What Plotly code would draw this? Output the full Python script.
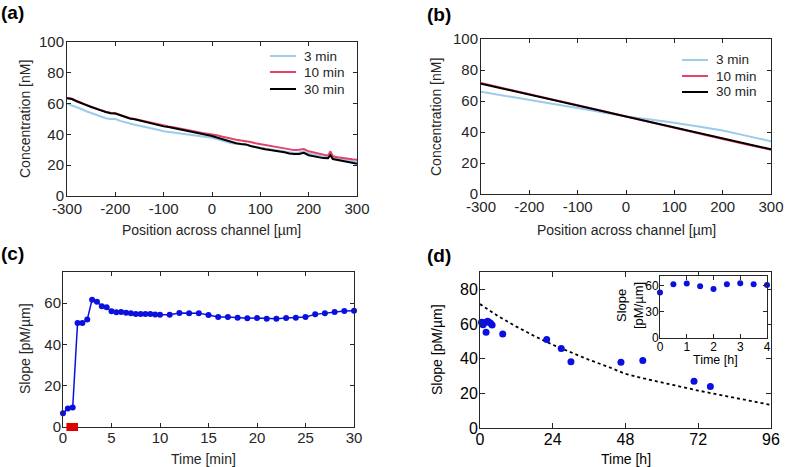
import plotly.graph_objects as go

W, H = 807, 467

# ---- data (a): measured profiles, concentration [nM] vs position [um]
pos_a = [-300, -290, -280, -270, -260, -250, -240, -230, -220, -210, -200, -190, -180, -170, -160,
         -150, -140, -130, -120, -110, -100, -90, -80, -70, -60, -50, -40, -30, -20, -10,
         0, 10, 20, 30, 40, 50, 60, 70, 80, 90, 100, 110, 120, 130, 140, 150, 160, 170, 180,
         190, 200, 210, 220, 230, 240, 245, 250, 260, 270, 280, 290, 300]
a_3min = [60, 59, 57.5, 56.5, 55, 53.8, 52.6, 51.5, 50.5, 50, 50, 48.8, 47.8, 47, 46.3,
          45.6, 45, 44.4, 43.6, 42.8, 42, 41.6, 41.5, 41, 40.3, 40, 39.6, 39.2, 38.8, 38.2,
          37.8, 37, 36, 35, 34.3, 34, 33.8, 33.3, 32.5, 31.8, 31.3, 30.8, 30.3, 29.8, 29.3, 28.8,
          28.2, 28, 28.2, 28.8, 27.5, 26.8, 26.2, 25.6, 25.3, 27.5, 25, 24.4, 23.8, 23.2, 22.7, 22.2]
a_10min = [63.6, 63.1, 61.7, 60.7, 59.2, 58, 56.7, 55.8, 54.8, 54, 53.8, 52.7, 51.3, 50.5, 50,
           49.3, 48.5, 48.1, 47.3, 46.3, 45.5, 45.1, 44.6, 43.9, 43.3, 42.8, 42.2, 41.6, 41, 40.6,
           40.2, 39.4, 38.6, 37.8, 37, 36.5, 36, 35.6, 35, 34.2, 33.6, 33.2, 32.8, 32, 31.6, 31,
           30.2, 29.8, 30, 30.5, 29, 28.2, 27.4, 26.6, 26.2, 29, 25.8, 25.2, 24.6, 24.2, 23.8, 23.5]
a_30min = [63.5, 63, 61.5, 60.5, 59, 57.8, 56.5, 55.6, 54.6, 53.8, 53.6, 52.5, 51, 50.3, 49.8,
           49, 48.2, 47.8, 47, 46, 45.2, 44.8, 44.2, 43.5, 42.8, 42.3, 41.6, 41, 40.2, 39.6,
           39, 38, 37, 35.8, 35, 34.3, 33.8, 33.5, 32.5, 31.5, 31, 30.4, 30, 29.5, 29, 28.4,
           27.6, 27.2, 27.3, 28, 26.5, 25.8, 25.2, 24.6, 24.5, 26.5, 24, 23.5, 22.8, 22.2, 21.6, 21]

# ---- data (b): simulated profiles
pos_b = [-300, -250, -200, -150, -100, -50, 0, 50, 100, 150, 200, 250, 300]
b_3min = [66, 63.2, 60.5, 58, 55.5, 52.8, 50, 48, 46, 43.5, 41, 37.5, 34]
b_10min = [71.6, 68.1, 64.5, 61, 57.4, 53.7, 50, 46.3, 42.7, 39.1, 35.5, 32, 28.6]
b_30min = [71.2, 67.7, 64.2, 60.6, 57.1, 53.5, 50, 46.5, 42.9, 39.4, 35.8, 32.3, 28.8]
series_names = ["3 min", "10 min", "30 min"]

# ---- data (c): slope vs time [min]
t_c = [0, 0.5, 1, 1.5, 2, 2.5, 3, 3.5, 4, 4.5, 5, 5.5, 6, 6.5, 7, 7.5, 8, 8.5, 9, 9.5, 10,
       11, 12, 13, 14, 15, 16, 17, 18, 19, 20, 21, 22, 23, 24, 25, 26, 27, 28, 29, 30]
slope_c = [6.6, 9, 9.4, 50.3, 50.3, 52, 61.6, 60.6, 58.4, 57.9, 56, 55.5, 55.6, 55.3, 55.1,
           54.7, 54.7, 54.7, 54.7, 54.4, 54.3, 54.3, 55.2, 55.1, 55.1, 54.2, 53.2, 53.2, 52.9,
           52.6, 52.7, 52.4, 52.4, 52.7, 52.9, 53.2, 54.5, 55.1, 55.6, 56.1, 56.3]
pulse = [0.35, 1.55]  # red bar, min

# ---- data (d): slope vs time [h]
t_d = [0.5, 1, 1.5, 2, 2.5, 3, 3.5, 4, 7.5, 22, 26.8, 30, 46.5, 53.7, 70.6, 76]
slope_d = [61, 59.5, 60.8, 55.2, 61.6, 61, 60.5, 59.4, 54.2, 51.1, 45.9, 38.2, 38, 39, 27, 24]
t_fit = [0, 6, 12, 18, 24, 30, 36, 42, 48, 54, 60, 66, 72, 78, 84, 90, 96]
slope_fit = [71.5, 64.5, 58.5, 53, 48, 43.5, 39.3, 35.5, 31.2, 28.6, 26.2, 24, 21.6, 19.5, 17.4, 15.3, 13.3]
t_in = [0, 0.5, 1, 1.5, 2, 2.5, 3, 3.5, 4]
slope_in = [52, 61.6, 62.4, 59.3, 56.2, 61.6, 62.7, 61.6, 60.6]

BLUE_L = "#9ccbec"
PINK = "#e5426b"
NAVY = "#0a10e0"
AX = "#262626"
colors_ab = [BLUE_L, PINK, "black"]


def px_x(p):
    return p / W


def px_y(p):
    return 1 - p / H


fig = go.Figure()

for name, ys, col in zip(series_names, [a_3min, a_10min, a_30min], colors_ab):
    fig.add_trace(go.Scatter(x=pos_a, y=ys, mode="lines", name=name, line=dict(color=col, width=2),
                             xaxis="x", yaxis="y", showlegend=False))
for name, ys, col in zip(series_names, [b_3min, b_10min, b_30min], colors_ab):
    fig.add_trace(go.Scatter(x=pos_b, y=ys, mode="lines", name=name, line=dict(color=col, width=2),
                             xaxis="x2", yaxis="y2", showlegend=False))

fig.add_trace(go.Scatter(x=t_c, y=slope_c, mode="lines+markers", line=dict(color=NAVY, width=1.5),
                         marker=dict(color=NAVY, size=6), xaxis="x3", yaxis="y3", showlegend=False,
                         cliponaxis=False))

fig.add_trace(go.Scatter(x=t_fit, y=slope_fit, mode="lines", line=dict(color="black", width=1.8, dash="dot"),
                         xaxis="x4", yaxis="y4", showlegend=False))
fig.add_trace(go.Scatter(x=t_d, y=slope_d, mode="markers", marker=dict(color=NAVY, size=7),
                         xaxis="x4", yaxis="y4", showlegend=False, cliponaxis=False))
fig.add_trace(go.Scatter(x=t_in, y=slope_in, mode="markers", marker=dict(color=NAVY, size=6),
                         xaxis="x5", yaxis="y5", showlegend=False, cliponaxis=False))

sans = "Liberation Sans, Arial, sans-serif"


def axis(dom, rng, tickvals, anchor, size, ticklen=4, standoff=0, color=AX):
    return dict(domain=dom, range=rng, tickvals=tickvals, ticktext=[str(v) for v in tickvals],
                anchor=anchor, showgrid=False, zeroline=False, automargin=False,
                showline=True, linecolor=AX, linewidth=1, mirror="ticks", ticks="inside", ticklen=ticklen,
                tickcolor=AX, ticklabelstandoff=standoff,
                tickfont=dict(family=sans, size=size, color=color))


pos_ticks = [-300, -200, -100, 0, 100, 200, 300]
fig.update_layout(
    width=W, height=H, margin=dict(l=0, r=0, t=0, b=0),
    plot_bgcolor="white", paper_bgcolor="white", showlegend=False,
    xaxis=axis([px_x(67), px_x(357)], [-300, 300], pos_ticks, "y", 15, standoff=-1),
    yaxis=axis([px_y(196), px_y(42)], [0, 100], [0, 20, 40, 60, 80, 100], "x", 15, standoff=-1),
    xaxis2=axis([px_x(481), px_x(771)], [-300, 300], pos_ticks, "y2", 15, standoff=-1),
    yaxis2=axis([px_y(194), px_y(39)], [0, 100], [0, 20, 40, 60, 80, 100], "x2", 15, standoff=-1),
    xaxis3=axis([px_x(63), px_x(354)], [0, 30], [0, 5, 10, 15, 20, 25, 30], "y3", 15, standoff=-3),
    yaxis3=axis([px_y(427), px_y(272)], [0, 75], [0, 20, 40, 60], "x3", 15, standoff=-2),
    xaxis4=axis([px_x(480), px_x(771)], [0, 96], [0, 24, 48, 72, 96], "y4", 16, 5, standoff=-3, color="black"),
    yaxis4=axis([px_y(428), px_y(272)], [0, 90], [0, 20, 40, 60, 80], "x4", 16, 5, standoff=-2, color="black"),
    xaxis5=axis([px_x(660), px_x(767)], [0, 4], [0, 1, 2, 3, 4], "y5", 12, 4, standoff=-2, color="black"),
    yaxis5=axis([px_y(338), px_y(276)], [0, 71], [0, 30, 60], "x5", 12, 4, standoff=-2, color="black"),
)

fig.add_shape(type="rect", xref="x3 domain", yref="paper",
              x0=pulse[0] / 30, x1=pulse[1] / 30, y0=px_y(431), y1=px_y(423),
              fillcolor="#dd0000", line=dict(width=0))


def note(text, x, y, size, angle=0, bold=False, color=AX, xanchor="center"):
    fig.add_annotation(text=f"<b>{text}</b>" if bold else text, x=px_x(x), y=px_y(y), xref="paper", yref="paper",
                       showarrow=False, textangle=angle, font=dict(family=sans, size=size, color=color),
                       xanchor=xanchor, yanchor="middle")


# legends for (a) and (b)
for (lx, rows) in [(270, [56, 72, 89]), (682, [60, 76, 92])]:
    for name, col, ry in zip(series_names, colors_ab, rows):
        fig.add_shape(type="line", xref="paper", yref="paper", x0=px_x(lx), x1=px_x(lx + 26),
                      y0=px_y(ry), y1=px_y(ry), line=dict(color=col, width=2))
        note(name, lx + 32, ry, 13.5, xanchor="left")

note("(a)", 13, 13, 19, bold=True, color="black")
note("(b)", 439, 14, 19, bold=True, color="black")
note("(c)", 13, 253, 19, bold=True, color="black")
note("(d)", 439, 255, 19, bold=True, color="black")

note("Position across channel [µm]", 212, 230, 14)
note("Position across channel [µm]", 626, 230, 14)
note("Concentration [nM]", 25, 119, 14, angle=-90)
note("Concentration [nM]", 436, 117, 14, angle=-90)
note("Time [min]", 204, 459, 14)
note("Slope [pM/µm]", 25, 349, 14, angle=-90)
note("Time [h]", 626, 459, 14, color="black")
note("Slope [pM/µm]", 437, 350, 14, angle=-90, color="black")
note("Time [h]", 715, 360, 12.5, color="black")
note("Slope<br>[pM/µm]", 630, 306, 13, angle=-90, color="black")

fig.write_html("out.html", config={"displayModeBar": False},
               post_script="document.body.style.margin='0';")
